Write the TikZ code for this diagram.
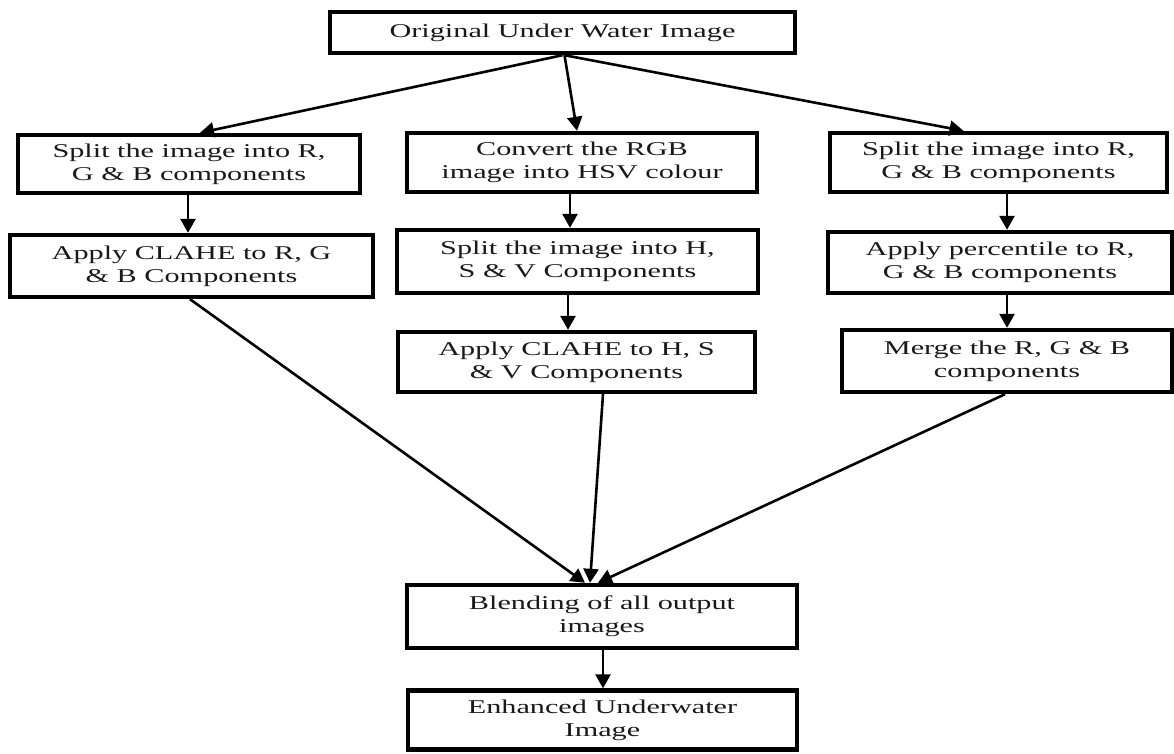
\documentclass[tikz,border=0pt]{standalone}
\usepackage{fontspec}
\setmainfont{Liberation Serif}[FakeStretch=1.55]
\usetikzlibrary{arrows.meta,calc}
\begin{document}
\begin{tikzpicture}[x=1pt,y=-1pt,
  box/.style={draw=black,line width=4.4pt,fill=white,inner sep=0pt,align=center,
    font=\fontsize{19.5}{23}\selectfont,text=black!90},
  conn/.style={line width=2.6pt,draw=black,-{Triangle[length=14pt,width=15pt]}}]
\useasboundingbox (0,0) rectangle (1174,753);
\fill[white] (0,0) rectangle (1174,753);
% nodes
\node[box,minimum width=465pt,minimum height=41pt] (top) at (562.5,32.5) {Original Under Water Image};
\node[box,minimum width=342pt,minimum height=58pt] (L1) at (189,164) {Split the image into R,\\G \& B components};
\node[box,minimum width=363pt,minimum height=62pt] (L2) at (191.5,266) {Apply CLAHE to R, G\\\& B Components};
\node[box,minimum width=350pt,minimum height=59pt] (M1) at (582,162.5) {Convert the RGB\\image into HSV colour};
\node[box,minimum width=361pt,minimum height=63pt] (M2) at (577.5,261.5) {Split the image into H,\\S \& V Components};
\node[box,minimum width=357pt,minimum height=60pt] (M3) at (576.5,362) {Apply CLAHE to H, S\\\& V Components};
\node[box,minimum width=337pt,minimum height=59pt] (R1) at (998.5,162.5) {Split the image into R,\\G \& B components};
\node[box,minimum width=344pt,minimum height=61pt] (R2) at (1000,262.5) {Apply percentile to R,\\G \& B components};
\node[box,minimum width=330pt,minimum height=62pt] (R3) at (1007,361) {Merge the R, G \& B\\components};
\node[box,minimum width=390pt,minimum height=63pt] (B) at (602,616.5) {Blending of all output\\images};
\node[box,minimum width=389pt,minimum height=59pt] (E) at (602.5,720) {Enhanced Underwater\\Image};
% connectors
\draw[conn] (top.south) -- ($(L1.north)+(11,0)$);
\draw[conn] ($(top.south)+(2,0)$) -- ($(M1.north)+(-5,0)$);
\draw[conn] ($(top.south)+(2,0)$) -- ($(R1.north)+(-35,0)$);
\draw[conn] ($(L1.south)+(-1,0)$) -- ($(L2.north)+(-3.5,0)$);
\draw[conn] ($(M1.south)+(-12,0)$) -- ($(M2.north)+(-7.5,0)$);
\draw[conn] ($(M2.south)+(-9.5,0)$) -- ($(M3.north)+(-8.5,0)$);
\draw[conn] ($(R1.south)+(8.5,0)$) -- ($(R2.north)+(7,0)$);
\draw[conn] ($(R2.south)+(7,0)$) -- ($(R3.north)+(0,0)$);
\draw[conn] ($(L2.south)+(-1.5,0)$) -- ($(B.north)+(-17,0)$);
\draw[conn] ($(M3.south)+(26.5,0)$) -- ($(B.north)+(-12,0)$);
\draw[conn] ($(R3.south)+(-2,0)$) -- ($(B.north)+(-4,0)$);
\draw[conn] ($(B.south)+(1,0)$) -- ($(E.north)+(0.5,0)$);
\end{tikzpicture}
\end{document}
